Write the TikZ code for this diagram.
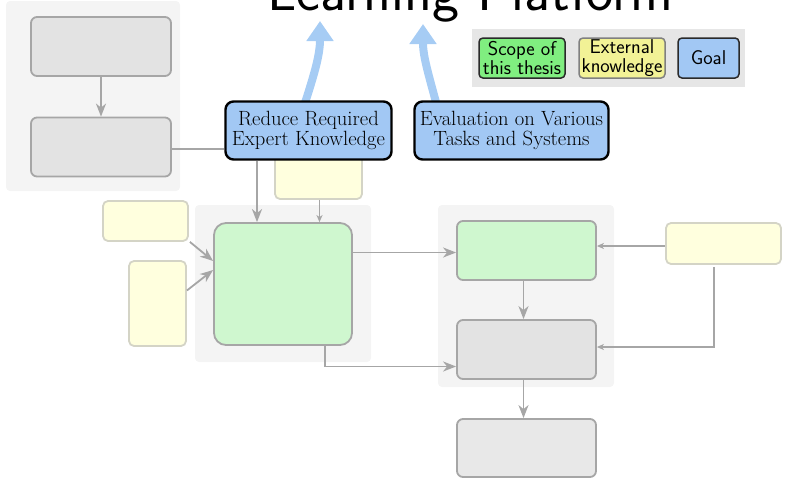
\documentclass[tikz,border=0pt]{standalone}
\usetikzlibrary{arrows.meta}
\definecolor{grpbg}{HTML}{F4F4F4}
\definecolor{legbg}{HTML}{E6E6E6}
\definecolor{grayfill}{HTML}{E3E3E3}
\definecolor{grayline}{HTML}{A6A6A6}
\definecolor{lastfill}{HTML}{E8E8E8}
\definecolor{greenfill}{HTML}{CFF7CF}
\definecolor{yellowfill}{HTML}{FFFFDE}
\definecolor{yellowline}{HTML}{D4D4C6}
\definecolor{goalfill}{HTML}{A2C8F4}
\definecolor{goalarrow}{HTML}{A6CCF4}
\definecolor{legendgreen}{HTML}{80EE80}
\definecolor{legendyellow}{HTML}{F2F296}
\definecolor{legendline}{HTML}{2A2A2A}
\begin{document}
\begin{tikzpicture}[x=1pt,y=-1pt,
  grp/.style={fill=grpbg, rounded corners=4pt, inner sep=0pt},
  stagebox/.style={draw=grayline, line width=1.8pt, rounded corners=6pt, inner sep=0pt},
  graybox/.style={stagebox, fill=grayfill},
  greenbox/.style={stagebox, fill=greenfill},
  knowbox/.style={draw=yellowline, fill=yellowfill, line width=1.8pt, rounded corners=5pt, inner sep=0pt},
  goalbox/.style={draw=black, fill=goalfill, line width=2.4pt, rounded corners=8pt, inner sep=0pt,
    align=center, font=\fontsize{20.6}{20}\selectfont},
  legbox/.style={draw=legendline, line width=1.5pt, rounded corners=4pt, inner sep=0pt,
    minimum height=40, align=center, font=\fontsize{20}{19.5}\selectfont\sffamily},
  conn/.style={draw=grayline, line width=1.8pt, -{Stealth[length=13pt,width=10pt,inset=4pt]}},
  thinconn/.style={draw=grayline, line width=1.5pt, -{Stealth[length=7pt,width=6pt,inset=2pt]}},
  plainconn/.style={draw=grayline, line width=1.8pt},
  goalconn/.style={draw=goalarrow, line width=8pt, -{Triangle[length=20pt,width=26pt]}}
]
\useasboundingbox (0,0) rectangle (785,480);

% title
\node[anchor=base, font=\fontsize{57.5}{64}\selectfont\sffamily] (title) at (470.5,10.5) {Learning Platform};

% group backgrounds
\node[grp, minimum width=174, minimum height=190] (grpL) at (93,96) {};
\node[grp, minimum width=176, minimum height=157] (grpC) at (283,283.5) {};
\node[grp, minimum width=176, minimum height=182] (grpR) at (526,296) {};

% legend
\node[fill=legbg, inner sep=0pt, minimum width=273, minimum height=58] (legend) at (608.5,58) {};
\node[legbox, fill=legendgreen, minimum width=86] (legscope) at (522,58) {Scope of\\this thesis};
\node[legbox, fill=legendyellow, draw=gray, minimum width=86] (legext) at (622,58) {External\\knowledge};
\node[legbox, fill=goalfill, minimum width=61] (leggoal) at (708.5,58) {Goal};

% left group
\node[graybox, minimum width=140, minimum height=59] (a1) at (101,46.5) {};
\node[graybox, minimum width=140, minimum height=59] (a2) at (101,147) {};

% external knowledge boxes
\node[knowbox, minimum width=87, minimum height=62] (y3) at (318.5,168) {};
\node[knowbox, minimum width=85, minimum height=40] (y1) at (145.5,221) {};
\node[knowbox, minimum width=57, minimum height=85] (y2) at (157.5,303.5) {};
\node[knowbox, minimum width=115, minimum height=41] (y4) at (723.5,243.5) {};

% central component and downstream stages
\node[greenbox, rounded corners=12pt, minimum width=138, minimum height=122] (c) at (283,284) {};
\node[greenbox, minimum width=139, minimum height=59] (r1) at (526.5,250.5) {};
\node[graybox, minimum width=139, minimum height=59] (r2) at (526.5,349.5) {};
\node[graybox, fill=lastfill, minimum width=139, minimum height=58] (r3) at (526.5,448) {};

% goal arrows towards the title
\coordinate (tip1) at (320,21);
\coordinate (tip2) at (423,24);
\path (308.5,130.5) coordinate (g1c) (511.5,130.5) coordinate (g2c);
\draw[goalconn] ([xshift=-4.5pt]g1c |- 0,106) to[out=72,in=-90] (tip1);
\draw[goalconn] ([xshift=-74.5pt]g2c |- 0,106) to[out=105,in=-90] (tip2);

% goals
\node[goalbox, minimum width=166, minimum height=58] (g1) at (g1c) {Reduce Required\\Expert Knowledge};
\node[goalbox, minimum width=194, minimum height=58] (g2) at (g2c) {Evaluation on Various\\Tasks and Systems};

% connectors
\draw[conn] (a1) -- (a2);
\draw[plainconn] ([yshift=-2pt]a2.east) -- ([yshift=-2pt]a2.east -| g1.west);
\draw[conn] ([xshift=-51.5pt]g1.south) -- ([xshift=-51.5pt]g1.south |- c.north);
\draw[thinconn] ([xshift=1pt]y3.south) -- ([xshift=1pt]y3.south |- c.north);
\draw[conn] ([xshift=1pt]y1.south east) -- ([yshift=23pt]c.west);
\draw[conn] ([yshift=13pt]y2.east) -- ([yshift=14pt]c.west);
\draw[conn] ([yshift=-2pt]r1.west -| c.east) -- ([yshift=-2pt]r1.west);
\draw[conn] ([xshift=42pt]c.south) |- ([yshift=-17pt]r2.west);
\draw[conn] ([xshift=-3pt]r1.south) -- ([xshift=-3pt]r2.north);
\draw[conn] ([xshift=-3pt]r2.south) -- ([xshift=-3pt]r3.north);
\draw[thinconn] ([yshift=-2.5pt]y4.west) -- ([yshift=-2.5pt]y4.west -| r1.east);
\draw[thinconn] ([xshift=-9.5pt,yshift=-2pt]y4.south) |- ([yshift=2.5pt]r2.east);
\end{tikzpicture}
\end{document}
